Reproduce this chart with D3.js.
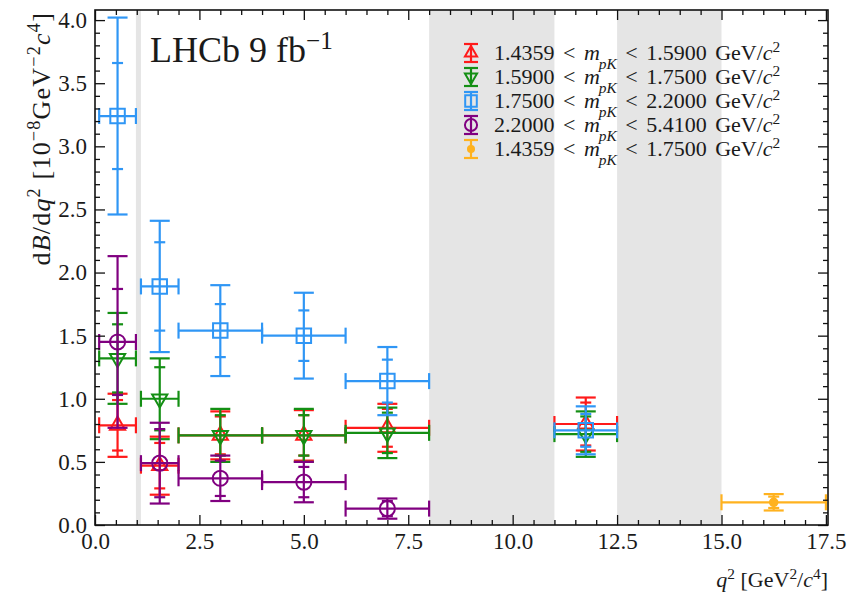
<!DOCTYPE html>
<html>
<head>
<meta charset="utf-8">
<script src="https://cdn.jsdelivr.net/npm/d3@7"></script>
<style>
  html, body { margin: 0; padding: 0; background: #fff; }
  svg { display: block; }
  text { font-family: "Liberation Serif", "DejaVu Serif", serif; fill: #1a1a1a; }
</style>
</head>
<body>
<svg id="chart" width="849" height="598"></svg>
<script>
// q^2 bins [GeV^2/c^4]
const binLo = [0.1, 1.1, 2.0, 4.0, 6.0, 11.0];
const binHi = [0.98, 2.0, 4.0, 6.0, 8.0, 12.5];

// Vetoed q^2 regions (shaded)
const vetoLo = [0.98, 8.0, 12.5];
const vetoHi = [1.1, 11.0, 15.0];

// dB/dq^2 values [1e-8 GeV^-2 c^4], total and statistical uncertainties
const redVal  = [0.79, 0.47, 0.71, 0.71, 0.77, 0.80];
const redTot  = [0.25, 0.23, 0.19, 0.20, 0.19, 0.21];
const redStat = [0.20, 0.18, 0.15, 0.16, 0.15, 0.17];

const greenVal  = [1.32, 1.00, 0.71, 0.71, 0.73, 0.72];
const greenTot  = [0.36, 0.32, 0.21, 0.21, 0.20, 0.18];
const greenStat = [0.27, 0.25, 0.16, 0.16, 0.16, 0.14];

const blueVal  = [3.24, 1.89, 1.54, 1.50, 1.14, 0.75];
const blueTot  = [0.78, 0.52, 0.36, 0.34, 0.27, 0.19];
const blueStat = [0.42, 0.35, 0.21, 0.20, 0.17, 0.13];

const purpleVal  = [1.45, 0.49, 0.37, 0.34, 0.13];
const purpleTot  = [0.68, 0.32, 0.18, 0.16, 0.08];
const purpleStat = [0.42, 0.27, 0.14, 0.12, 0.06];

const orangeLo = [15.0], orangeHi = [17.5];
const orangeVal  = [0.18];
const orangeTot  = [0.065];
const orangeStat = [0.045];

const legendLo = ["1.4359", "1.5900", "1.7500", "2.2000", "1.4359"];
const legendHi = ["1.5900", "1.7500", "2.2000", "5.4100", "1.7500"];

const xTicks = [0, 2.5, 5, 7.5, 10, 12.5, 15, 17.5];
const yTicks = [0, 0.5, 1, 1.5, 2, 2.5, 3, 3.5, 4];

const svg = d3.select("#chart");
const L = 95, R = 828, T = 10, B = 525;
const x = d3.scaleLinear().domain([0, 17.55]).range([L, R]);
const y = d3.scaleLinear().domain([0, 4.08]).range([B, T]);

// Shaded veto bands
svg.append("g").selectAll("rect").data(vetoLo).join("rect")
  .attr("x", (d) => x(d))
  .attr("width", (d, i) => x(vetoHi[i]) - x(d))
  .attr("y", T).attr("height", B - T)
  .attr("fill", "#e5e5e5");

const series = [
  {color: "#ff1a1a", shape: "up",   val: redVal,    tot: redTot,    stat: redStat,    lo: binLo, hi: binHi},
  {color: "#148f14", shape: "down", val: greenVal,  tot: greenTot,  stat: greenStat,  lo: binLo, hi: binHi},
  {color: "#2f96f5", shape: "sq",   val: blueVal,   tot: blueTot,   stat: blueStat,   lo: binLo, hi: binHi},
  {color: "#800080", shape: "circ", val: purpleVal, tot: purpleTot, stat: purpleStat, lo: binLo, hi: binHi},
  {color: "#ffb21f", shape: "dot",  val: orangeVal, tot: orangeTot, stat: orangeStat, lo: orangeLo, hi: orangeHi}
];

function symbolPath(shape, scale) {
  const s = scale || 1;
  if (shape === "up" || shape === "down") return d3.symbol(d3.symbolTriangle, 100 * s * s)();
  if (shape === "sq") return d3.symbol(d3.symbolSquare, 210 * s * s)();
  if (shape === "circ") return d3.symbol(d3.symbolCircle, 180 * s * s)();
  return d3.symbol(d3.symbolCircle, 45 * s * s)();
}

function drawMarker(g, shape, color, cx, cy, scale) {
  const p = g.append("path")
    .attr("d", symbolPath(shape, scale))
    .attr("transform", `translate(${cx},${cy})` + (shape === "down" ? " rotate(180)" : ""))
    .attr("stroke", color).attr("stroke-width", 2);
  if (shape === "dot") p.attr("fill", color); else p.attr("fill", "none");
}

const plot = svg.append("g");
series.forEach((s) => {
  const g = plot.append("g").attr("stroke", s.color).attr("stroke-width", 2.2).attr("fill", "none");
  s.val.forEach((v, i) => {
    const cx = x((s.lo[i] + s.hi[i]) / 2), cy = y(v);
    const x0 = x(s.lo[i]), x1 = x(s.hi[i]);
    const yt = y(v + s.tot[i]), yb = y(v - s.tot[i]);
    const st = y(v + s.stat[i]), sb = y(v - s.stat[i]);
    // horizontal bin width with end caps
    g.append("line").attr("x1", x0).attr("x2", x1).attr("y1", cy).attr("y2", cy);
    g.append("line").attr("x1", x0).attr("x2", x0).attr("y1", cy - 8).attr("y2", cy + 8);
    g.append("line").attr("x1", x1).attr("x2", x1).attr("y1", cy - 8).attr("y2", cy + 8);
    // total uncertainty with wide caps
    g.append("line").attr("x1", cx).attr("x2", cx).attr("y1", yt).attr("y2", yb);
    g.append("line").attr("x1", cx - 10).attr("x2", cx + 10).attr("y1", yt).attr("y2", yt);
    g.append("line").attr("x1", cx - 10).attr("x2", cx + 10).attr("y1", yb).attr("y2", yb);
    // statistical uncertainty with narrow caps
    g.append("line").attr("x1", cx - 5.5).attr("x2", cx + 5.5).attr("y1", st).attr("y2", st);
    g.append("line").attr("x1", cx - 5.5).attr("x2", cx + 5.5).attr("y1", sb).attr("y2", sb);
    drawMarker(g, s.shape, s.color, cx, cy, 1);
  });
});

// Axes with inward ticks on all four sides
function styleAxis(g) {
  g.select(".domain").remove();
  g.selectAll(".tick line").attr("stroke", "#111").attr("stroke-width", 1.3);
  g.selectAll(".tick text").attr("font-family", "Liberation Serif, serif").attr("font-size", 23).attr("fill", "#1a1a1a");
}
const fmt = d3.format(".1f");
const xMinor = d3.range(0, 17.51, 0.5).filter((v) => Math.abs(v / 2.5 - Math.round(v / 2.5)) > 1e-6);
const yMinor = d3.range(0, 4.05, 0.1).filter((v) => Math.abs(v / 0.5 - Math.round(v / 0.5)) > 1e-6);

svg.append("g").attr("transform", `translate(0,${B})`)
  .call(d3.axisBottom(x).tickValues(xTicks).tickFormat(fmt).tickSizeInner(-10).tickSizeOuter(0).tickPadding(8)).call(styleAxis);
svg.append("g").attr("transform", `translate(0,${B})`)
  .call(d3.axisBottom(x).tickValues(xMinor).tickFormat("").tickSizeInner(-5).tickSizeOuter(0)).call(styleAxis);
svg.append("g").attr("transform", `translate(0,${T})`)
  .call(d3.axisTop(x).tickValues(xTicks).tickFormat("").tickSizeInner(-10).tickSizeOuter(0)).call(styleAxis);
svg.append("g").attr("transform", `translate(0,${T})`)
  .call(d3.axisTop(x).tickValues(xMinor).tickFormat("").tickSizeInner(-5).tickSizeOuter(0)).call(styleAxis);

svg.append("g").attr("transform", `translate(${L},0)`)
  .call(d3.axisLeft(y).tickValues(yTicks).tickFormat(fmt).tickSizeInner(-10).tickSizeOuter(0).tickPadding(8)).call(styleAxis);
svg.append("g").attr("transform", `translate(${L},0)`)
  .call(d3.axisLeft(y).tickValues(yMinor).tickFormat("").tickSizeInner(-5).tickSizeOuter(0)).call(styleAxis);
svg.append("g").attr("transform", `translate(${R},0)`)
  .call(d3.axisRight(y).tickValues(yTicks).tickFormat("").tickSizeInner(-10).tickSizeOuter(0)).call(styleAxis);
svg.append("g").attr("transform", `translate(${R},0)`)
  .call(d3.axisRight(y).tickValues(yMinor).tickFormat("").tickSizeInner(-5).tickSizeOuter(0)).call(styleAxis);

// Frame
svg.append("rect").attr("x", L).attr("y", T).attr("width", R - L).attr("height", B - T)
  .attr("fill", "none").attr("stroke", "#111").attr("stroke-width", 1.6);

// Rich text helper: parts = [[text, {italic, shift, small, dx}], ...]
function rich(sel, parts, size) {
  parts.forEach(([t, o]) => {
    o = o || {};
    const ts = sel.append("tspan").text(t);
    if (o.italic) ts.attr("font-style", "italic");
    if (o.shift) ts.attr("baseline-shift", o.shift);
    if (o.small) ts.attr("font-size", size * 0.7);
    if (o.dx) ts.attr("dx", o.dx);
  });
}

// Axis titles
const xl = svg.append("text").attr("x", R).attr("y", 587).attr("text-anchor", "end").attr("font-size", 22);
rich(xl, [["q", {italic: true}], ["2", {shift: "super", small: true}], [" [GeV"], ["2", {shift: "super", small: true}], ["/"], ["c", {italic: true}], ["4", {shift: "super", small: true}], ["]"]], 22);

const yl = svg.append("text").attr("transform", `translate(50,${T + 2}) rotate(-90)`).attr("text-anchor", "end")
  .attr("font-size", 26).attr("letter-spacing", 1.2);
rich(yl, [["d"], ["B", {italic: true}], ["/d"], ["q", {italic: true}], ["2", {shift: "super", small: true}], [" [10"], ["\u22128", {shift: "super", small: true}], ["GeV"], ["\u22122", {shift: "super", small: true}], ["c", {italic: true}], ["4", {shift: "super", small: true}], ["]"]], 26);

// Experiment label
const lab = svg.append("text").attr("x", 150).attr("y", 62).attr("font-size", 36);
rich(lab, [["LHCb 9 fb"], ["\u22121", {shift: "super", small: true}]], 36);

// Legend
const lg = svg.append("g");
series.forEach((s, i) => {
  const cy = 53 + i * 24, cx = 471;
  const g = lg.append("g").attr("stroke", s.color).attr("stroke-width", 2.2).attr("fill", "none");
  g.append("line").attr("x1", cx).attr("x2", cx).attr("y1", cy - 9).attr("y2", cy + 9);
  g.append("line").attr("x1", cx - 7).attr("x2", cx + 7).attr("y1", cy - 9).attr("y2", cy - 9);
  g.append("line").attr("x1", cx - 7).attr("x2", cx + 7).attr("y1", cy + 9).attr("y2", cy + 9);
  drawMarker(g, s.shape, s.color, cx, cy, 0.8);
  const t = lg.append("text").attr("x", 494).attr("y", cy + 7).attr("font-size", 22).attr("word-spacing", 3);
  rich(t, [[legendLo[i] + " < "], ["m", {italic: true}], ["pK", {italic: true, shift: "sub", small: true, dx: -1}], [" < " + legendHi[i] + " GeV/"], ["c", {italic: true}], ["2", {shift: "super", small: true}]], 22);
});
</script>
</body>
</html>
